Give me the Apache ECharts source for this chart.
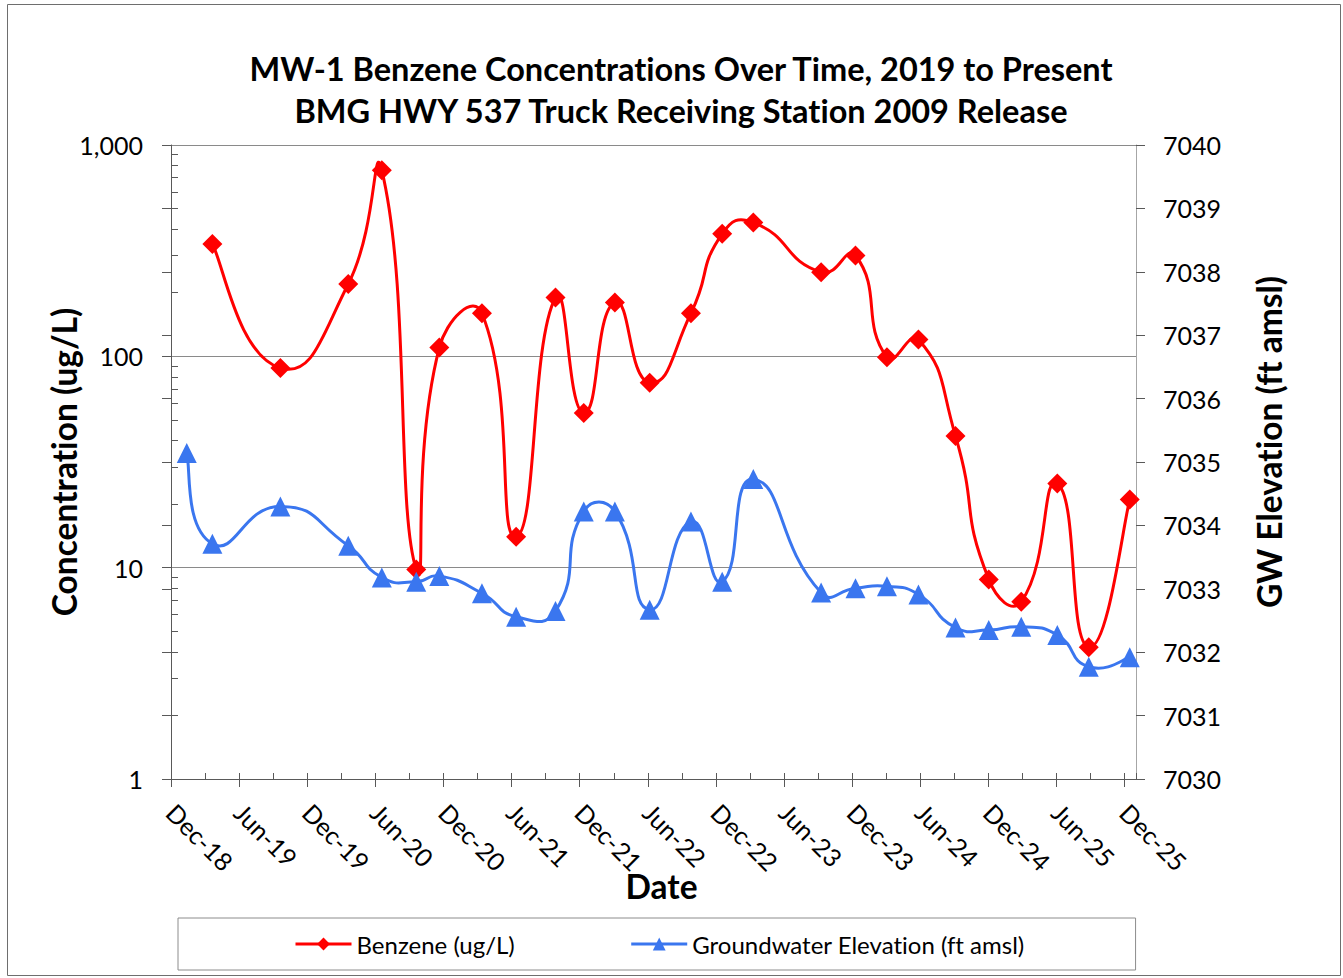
<!DOCTYPE html>
<html>
<head>
<meta charset="utf-8">
<script src="https://cdn.jsdelivr.net/npm/echarts@6/dist/echarts.min.js"></script>
<style>
html,body{margin:0;padding:0;background:#fff;}
#chart{width:1343px;height:978px;}
#chart text{font-variant-ligatures:none;font-feature-settings:"liga" 0,"clig" 0;}
</style>
</head>
<body>
<div id="chart"></div>
<script>
// ---- data ----
const sampleDates = ['2019-01-13','2019-03-21','2019-09-20','2020-03-20','2020-06-18','2020-09-19','2020-11-20',
  '2021-03-13','2021-06-13','2021-09-27','2021-12-12','2022-03-04','2022-06-06','2022-09-25','2022-12-18',
  '2023-03-10','2023-09-09','2023-12-10','2024-03-03','2024-05-27','2024-09-04','2024-12-02','2025-02-26',
  '2025-06-03','2025-08-27','2025-12-15'];
const benzene = [null,340,88,220,760,9.8,110,160,14,190,54,180,75,160,380,430,250,300,99,120,42,8.8,6.9,25,4.2,21];
const groundwater = [7035.14,7033.71,7034.30,7033.68,7033.18,7033.11,7033.20,7032.93,7032.56,7032.65,7034.22,
  7034.22,7032.67,7034.06,7033.11,7034.73,7032.94,7033.01,7033.04,7032.91,7032.39,7032.35,7032.40,7032.27,
  7031.77,7031.92];
const xTickLabels = ['Dec-18','Jun-19','Dec-19','Jun-20','Dec-20','Jun-21','Dec-21','Jun-22','Dec-22',
  'Jun-23','Dec-23','Jun-24','Dec-24','Jun-25','Dec-25'];
const logMinorTicks = [2,3,4,5,6,7,8,9,20,30,40,50,60,70,80,90,200,300,400,500,600,700,800,900];

// months since 2018-12-01
function toMonths(s){
  const [y,m,d] = s.split('-').map(Number);
  const dim = new Date(y, m, 0).getDate();
  return (y-2018)*12 + (m-12) + (d-1)/dim;
}
const xs = sampleDates.map(toMonths);
const benzeneData = benzene.map((v,i)=>[xs[i], v]).filter(p=>p[1]!==null);
const gwData = groundwater.map((v,i)=>[xs[i], v]);

const RED = '#ff0000', BLUE = '#3a76ef';
const FONT = 'Lato';
const AX = '#595959';
const SMOOTH = 0.55;

// Excel-like smoothed curve (unclamped cardinal bezier), one segment per data item
function smoothSegment(data, color){
  const dist = (a,b) => Math.hypot(a[0]-b[0], a[1]-b[1]);
  return function(params, api){
    const i = params.dataIndex, n = data.length;
    if (i >= n-1) return null;
    const P = k => api.coord(data[Math.max(0, Math.min(n-1, k))]);
    const p0 = P(i-1), p1 = P(i), p2 = P(i+1), p3 = P(i+2);
    const d01 = dist(p0,p1), d12 = dist(p1,p2), d23 = dist(p2,p3);
    const f1 = (i === 0) ? 1/6 : SMOOTH * d12 / (d01 + d12);
    const f2 = (i+1 === n-1) ? 1/6 : SMOOTH * d12 / (d12 + d23);
    return {
      type:'bezierCurve',
      shape:{
        x1:p1[0], y1:p1[1], x2:p2[0], y2:p2[1],
        cpx1:p1[0] + (p2[0]-p0[0])*f1, cpy1:p1[1] + (p2[1]-p0[1])*f1,
        cpx2:p2[0] - (p3[0]-p1[0])*f2, cpy2:p2[1] - (p3[1]-p1[1])*f2
      },
      style:{stroke:color, lineWidth:3, fill:null, lineCap:'round', lineJoin:'round'},
      silent:true
    };
  };
}

const chart = echarts.init(document.getElementById('chart'), null, {renderer:'svg'});

chart.setOption({
  animation:false,
  backgroundColor:'#fff',
  textStyle:{fontFamily:FONT},
  title:{
    text:'MW-1 Benzene Concentrations Over Time, 2019 to Present\nBMG HWY 537 Truck Receiving Station 2009 Release',
    left:676, top:42, textAlign:'center',
    textStyle:{fontFamily:FONT, fontWeight:'bold', fontSize:32.5, color:'#000', lineHeight:42}
  },
  grid:{left:171, right:207, top:145, bottom:199, containLabel:false},
  legend:{
    left:178, top:918,
    padding:[14,111,14,116],
    itemGap:115, itemWidth:56, itemHeight:16,
    borderColor:'#8c8c8c', borderWidth:1,
    textStyle:{fontFamily:FONT, fontSize:24, color:'#000'},
    data:[
      {name:'Benzene (ug/L)', lineStyle:{color:RED, width:3, opacity:1}},
      {name:'Groundwater Elevation (ft amsl)', lineStyle:{color:BLUE, width:3, opacity:1}}
    ]
  },
  graphic:[{
    type:'rect', shape:{x:7.5, y:4.5, width:1333, height:971},
    style:{fill:null, stroke:'#6e6e6e', lineWidth:1}, silent:true, z:-1
  }],
  xAxis:[{
    type:'value', min:0, max:85, interval:6,
    name:'Date', nameLocation:'middle', nameGap:90, nameMoveOverlap:false,
    nameTextStyle:{fontFamily:FONT, fontWeight:'bold', fontSize:33.5, color:'#000', padding:[0,0,0,16]},
    axisLine:{show:true, onZero:false, lineStyle:{color:AX, width:1}},
    axisTick:{show:true, length:8, inside:false, lineStyle:{color:AX}},
    axisLabel:{rotate:-45, margin:29, fontFamily:FONT, fontSize:25, color:'#000',
      formatter:v => (v%6===0 ? xTickLabels[v/6] : ''), showMaxLabel:false},
    splitLine:{show:false}
  },{
    type:'value', min:0, max:85, interval:3, position:'bottom', gridIndex:0,
    axisLine:{show:false}, axisLabel:{show:false}, splitLine:{show:false},
    axisTick:{show:true, inside:true, length:6, lineStyle:{color:AX}}
  }],
  yAxis:[{
    type:'log', logBase:10, min:1, max:1000, position:'left',
    name:'Concentration (ug/L)', nameLocation:'middle', nameGap:90, nameRotate:90, nameMoveOverlap:false,
    nameTextStyle:{fontFamily:FONT, fontWeight:'bold', fontSize:33.5, color:'#000'},
    axisLine:{show:true, onZero:false, lineStyle:{color:AX}},
    axisTick:{show:true, length:9, lineStyle:{color:AX}},
    axisLabel:{fontFamily:FONT, fontSize:25, color:'#000', margin:28,
      formatter:v => Number(v).toLocaleString('en-US')},
    splitLine:{show:true, lineStyle:{color:'#8a8a8a', width:1}}
  },{
    type:'value', min:7030, max:7040, interval:1, position:'right',
    name:'GW Elevation (ft amsl)', nameLocation:'middle', nameGap:116, nameRotate:90, nameMoveOverlap:false,
    nameTextStyle:{fontFamily:FONT, fontWeight:'bold', fontSize:33.5, color:'#000', padding:[0,0,0,40]},
    axisLine:{show:true, onZero:false, lineStyle:{color:'#a6a6a6'}},
    axisTick:{show:true, length:9, lineStyle:{color:AX}},
    axisLabel:{fontFamily:FONT, fontSize:25, color:'#000', margin:27, formatter:v => String(v)},
    splitLine:{show:false}
  },{
    type:'log', logBase:10, min:1, max:1000, position:'left',
    axisLine:{show:false}, axisLabel:{show:false}, splitLine:{show:false},
    axisTick:{show:true, inside:true, length:7, customValues:logMinorTicks, lineStyle:{color:AX}}
  },{
    type:'value', min:7030, max:7040, interval:1, position:'right',
    axisLine:{show:false}, axisLabel:{show:false}, splitLine:{show:false},
    axisTick:{show:true, inside:true, length:9, lineStyle:{color:AX}}
  }],
  series:[{
    type:'custom', xAxisIndex:0, yAxisIndex:0, data:benzeneData,
    renderItem:smoothSegment(benzeneData, RED), z:2, clip:false
  },{
    name:'Benzene (ug/L)', type:'line', xAxisIndex:0, yAxisIndex:0,
    data:benzeneData, symbol:'diamond', symbolSize:20,
    lineStyle:{color:RED, width:3, opacity:0},
    itemStyle:{color:RED}, z:3
  },{
    type:'custom', xAxisIndex:0, yAxisIndex:1, data:gwData,
    renderItem:smoothSegment(gwData, BLUE), z:4, clip:false
  },{
    name:'Groundwater Elevation (ft amsl)', type:'line', xAxisIndex:0, yAxisIndex:1,
    data:gwData, symbol:'triangle', symbolSize:20,
    lineStyle:{color:BLUE, width:3, opacity:0},
    itemStyle:{color:BLUE}, z:5
  }]
});
</script>
</body>
</html>
